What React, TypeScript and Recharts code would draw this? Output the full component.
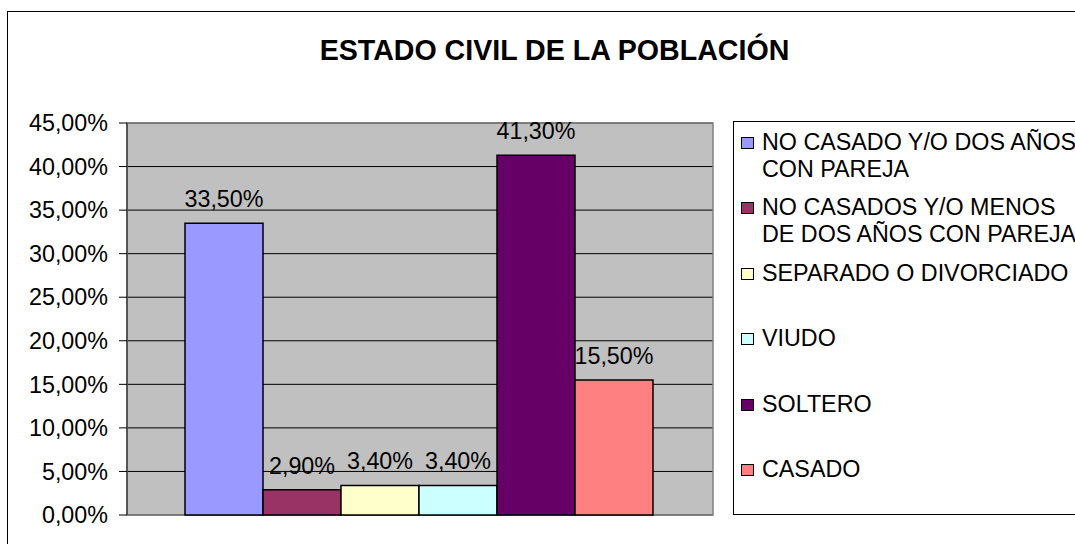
import React from "react";
import { BarChart, Bar, XAxis, YAxis, CartesianGrid, Legend, ReferenceArea } from "recharts";

const categoryName = "ESTADO CIVIL";
const seriesNames = [
  "NO CASADO Y/O DOS AÑOS\nCON PAREJA",
  "NO CASADOS Y/O MENOS\nDE DOS AÑOS CON PAREJA",
  "SEPARADO O DIVORCIADO",
  "VIUDO",
  "SOLTERO",
  "CASADO",
];
const seriesValues = [0.335, 0.029, 0.034, 0.034, 0.413, 0.155];
const seriesColors = ["#9999FF", "#993366", "#FFFFCC", "#CCFFFF", "#660066", "#FF8080"];
const yTicks = [0, 0.05, 0.1, 0.15, 0.2, 0.25, 0.3, 0.35, 0.4, 0.45];
const titleText = "ESTADO CIVIL DE LA POBLACIÓN";

const seriesKeys = seriesNames.map((_, i) => `s${i}`);
const data = [
  seriesKeys.reduce(
    (row: Record<string, any>, k, i) => {
      row[k] = seriesValues[i];
      return row;
    },
    { name: categoryName } as Record<string, any>
  ),
];

const FONT = "'Liberation Sans', Arial, Helvetica, sans-serif";
const FS = 23.3;

const fmtPct = (v: number) => (v * 100).toFixed(2).replace(".", ",") + "%";

const renderLabel = (props: any) => {
  const { x, y, width, value } = props;
  return (
    <text
      x={Number(x) + Number(width) / 2}
      y={Number(y) - 16}
      textAnchor="middle"
      fontSize={FS}
      fill="#000"
      fontFamily={FONT}
    >
      {fmtPct(Number(value))}
    </text>
  );
};

const LegendBox = () => (
  <div
    style={{
      boxSizing: "border-box",
      width: 420,
      height: 394,
      border: "1.5px solid #000",
      background: "#fff",
      paddingTop: 7,
      paddingLeft: 7,
      fontFamily: FONT,
      fontSize: FS,
      color: "#000",
    }}
  >
    {seriesNames.map((n, i) => (
      <div key={i} style={{ height: 65.4, display: "flex", alignItems: "flex-start" }}>
        <div
          style={{
            boxSizing: "border-box",
            width: 13,
            height: 12,
            marginTop: 8,
            background: seriesColors[i],
            border: "1px solid #000",
            flex: "0 0 auto",
          }}
        />
        <div style={{ marginLeft: 8, lineHeight: "27px", whiteSpace: "pre" }}>{n}</div>
      </div>
    ))}
  </div>
);

export default function App() {
  return (
    <div
      style={{
        position: "absolute",
        left: 0,
        top: 0,
        width: 1075,
        height: 544,
        overflow: "hidden",
        background: "#fff",
        fontFamily: FONT,
      }}
    >
      <div
        style={{
          position: "absolute",
          left: 7,
          top: 11,
          width: 1200,
          height: 700,
          border: "1.5px solid #000",
        }}
      />
      <div
        style={{
          position: "absolute",
          left: 0,
          top: 36,
          width: 1109,
          textAlign: "center",
          fontSize: 28.6,
          lineHeight: "28px",
          fontWeight: "bold",
          color: "#000",
          whiteSpace: "nowrap",
        }}
      >
        {titleText}
      </div>
      <div style={{ position: "absolute", left: 0, top: 0 }}>
        <BarChart
          width={1075}
          height={544}
          data={data}
          margin={{ top: 123, right: 362, bottom: 29, left: 0 }}
          barCategoryGap={58}
          barGap={0}
        >
          <CartesianGrid fill="#C0C0C0" fillOpacity={1} stroke="#000" vertical={false} />
          <ReferenceArea y1={0} y2={0.45} fill="none" stroke="#808080" strokeWidth={1.5} ifOverflow="visible" />
          <XAxis dataKey="name" hide />
          <YAxis
            type="number"
            domain={[0, 0.45]}
            ticks={yTicks}
            interval={0}
            width={127}
            tickSize={8}
            tickMargin={11}
            tickFormatter={fmtPct}
            tick={{ fill: "#000", fontSize: FS }}
            tickLine={{ stroke: "#000" }}
            axisLine={{ stroke: "#404040", strokeWidth: 1.5 }}
          />
          {seriesKeys.map((k, i) => (
            <Bar
              key={k}
              dataKey={k}
              name={seriesNames[i]}
              fill={seriesColors[i]}
              stroke="#000"
              strokeWidth={1.5}
              isAnimationActive={false}
              label={renderLabel}
            />
          ))}
          <Legend
            layout="vertical"
            align="center"
            verticalAlign="middle"
            wrapperStyle={{ left: 733, top: 121, width: 420, height: 394 }}
            content={() => <LegendBox />}
          />
        </BarChart>
      </div>
    </div>
  );
}
